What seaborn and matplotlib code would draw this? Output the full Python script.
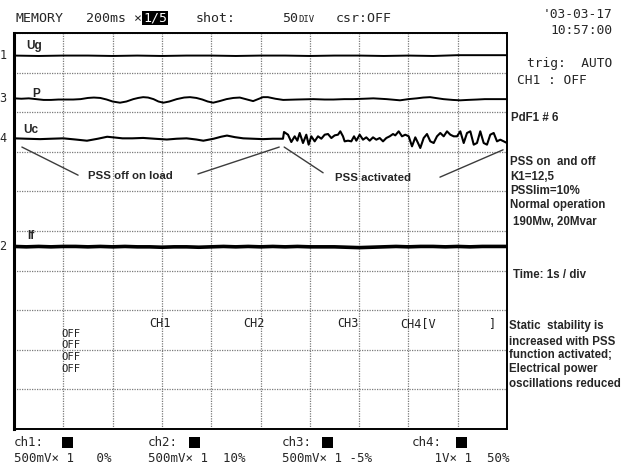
import matplotlib
matplotlib.use("Agg")
import numpy as np
import pandas as pd
import seaborn as sns
import matplotlib.pyplot as plt
from matplotlib.patches import Rectangle

# ---------------------------------------------------------------------------
# Recorded traces (time in s, amplitude in screen divisions, 1 s / div)
# ---------------------------------------------------------------------------
ug_t = [0.0, 0.5, 1.0, 1.5, 2.0, 2.5, 3.0, 3.5, 4.0, 4.5, 5.0, 5.5, 6.0, 6.5,
        7.0, 7.5, 8.0, 8.5, 9.0, 9.5, 10.0]
ug_v = [9.43, 9.42, 9.43, 9.43, 9.42, 9.43, 9.42, 9.43, 9.43, 9.42, 9.43, 9.43,
        9.42, 9.43, 9.43, 9.42, 9.43, 9.42, 9.44, 9.44, 9.44]

p_t = [0.00, 0.15, 0.30, 0.45, 0.60, 0.75, 0.90, 1.05, 1.20, 1.35, 1.50, 1.62,
       1.75, 1.88, 2.00, 2.15, 2.28, 2.42, 2.52, 2.62, 2.72, 2.83, 2.93, 3.03,
       3.15, 3.30, 3.45, 3.57, 3.70, 3.82, 3.93, 4.04, 4.17, 4.31, 4.45, 4.58,
       4.70, 4.85, 4.95, 5.05, 5.15, 5.30, 5.46, 5.73, 6.07, 6.30, 6.48, 6.70,
       6.88, 7.10, 7.29, 7.56, 7.83, 8.00, 8.17, 8.30, 8.44, 8.60, 8.71, 8.90,
       9.05, 9.20, 9.39, 9.55, 9.72, 9.86, 10.0]
p_v = [8.35, 8.34, 8.35, 8.33, 8.31, 8.31, 8.32, 8.32, 8.32, 8.33, 8.36, 8.37,
       8.36, 8.32, 8.27, 8.24, 8.27, 8.33, 8.36, 8.38, 8.37, 8.33, 8.27, 8.24,
       8.27, 8.33, 8.37, 8.38, 8.36, 8.32, 8.27, 8.24, 8.28, 8.33, 8.36, 8.37,
       8.33, 8.28, 8.33, 8.38, 8.38, 8.34, 8.31, 8.32, 8.33, 8.32, 8.32, 8.33,
       8.33, 8.34, 8.35, 8.33, 8.30, 8.33, 8.35, 8.37, 8.38, 8.35, 8.33, 8.31,
       8.30, 8.31, 8.32, 8.33, 8.33, 8.33, 8.33]

uc_t = [0.00, 0.25, 0.53, 0.75, 1.00, 1.25, 1.48, 1.70, 1.89, 2.05, 2.20, 2.40,
        2.62, 2.85, 3.10, 3.30, 3.50, 3.70, 3.84, 4.05, 4.20, 4.32, 4.48, 4.65,
        4.85, 5.05, 5.25, 5.36, 5.456,
        5.477, 5.558, 5.625, 5.693, 5.747, 5.795, 5.862, 5.929, 5.977, 6.031,
        6.099, 6.166, 6.234, 6.302, 6.369, 6.437, 6.505, 6.572, 6.619, 6.673,
        6.707, 6.775, 6.842, 6.897, 6.944, 7.012, 7.079, 7.146, 7.215, 7.282,
        7.349, 7.418, 7.485, 7.552, 7.621, 7.688, 7.734, 7.803, 7.870, 7.937,
        8.006, 8.073, 8.140, 8.195, 8.241, 8.310, 8.377, 8.444, 8.513, 8.580,
        8.647, 8.716, 8.783, 8.850, 8.919, 8.986, 9.053, 9.122, 9.189, 9.256,
        9.325, 9.391, 9.458, 9.527, 9.594, 9.661, 9.730, 9.797, 9.864, 9.933,
        10.0]
uc_v = [7.34, 7.33, 7.32, 7.33, 7.34, 7.31, 7.28, 7.33, 7.38, 7.36, 7.34, 7.34,
        7.35, 7.33, 7.31, 7.33, 7.34, 7.31, 7.28, 7.33, 7.38, 7.41, 7.37, 7.34,
        7.33, 7.32, 7.33, 7.33, 7.33,
        7.500, 7.432, 7.247, 7.391, 7.281, 7.475, 7.222, 7.432, 7.180, 7.391,
        7.264, 7.391, 7.331, 7.432, 7.449, 7.348, 7.415, 7.432, 7.517, 7.391,
        7.264, 7.281, 7.264, 7.391, 7.281, 7.432, 7.306, 7.365, 7.281, 7.365,
        7.306, 7.348, 7.264, 7.348, 7.391, 7.449, 7.415, 7.517, 7.391, 7.432,
        7.391, 7.138, 7.365, 7.222, 7.096, 7.348, 7.449, 7.264, 7.222, 7.391,
        7.475, 7.391, 7.517, 7.432, 7.391, 7.391, 7.517, 7.222, 7.475, 7.517,
        7.180, 7.222, 7.517, 7.222, 7.180, 7.432, 7.475, 7.264, 7.306, 7.264,
        7.222]

if_t = [0.0, 0.25, 0.5, 0.75, 1.0, 1.25, 1.5, 1.75, 2.0, 2.25, 2.5, 2.75, 3.0,
        3.25, 3.5, 3.75, 4.0, 4.25, 4.5, 4.75, 5.0, 5.25, 5.5, 5.75, 6.0, 6.25,
        6.5, 6.75, 7.0, 7.25, 7.5, 7.75, 8.0, 8.25, 8.5, 8.75, 9.0, 9.25, 9.5,
        9.75, 10.0]
if_v = [4.61, 4.60, 4.61, 4.60, 4.61, 4.61, 4.60, 4.61, 4.60, 4.61, 4.60, 4.60,
        4.59, 4.60, 4.60, 4.59, 4.60, 4.61, 4.60, 4.61, 4.60, 4.61, 4.60, 4.61,
        4.60, 4.60, 4.60, 4.59, 4.58, 4.59, 4.60, 4.61, 4.60, 4.61, 4.61, 4.60,
        4.61, 4.60, 4.61, 4.61, 4.61]

# channel markers on the left edge: (label, trace)
channel_numbers = ["1", "3", "4", "2"]
trace_names = ["Ug", "P", "Uc", "If"]

# ---------------------------------------------------------------------------
sns.set_theme(style="white")
plt.rcParams["font.family"] = ["DejaVu Sans"]
MONO = "DejaVu Sans Mono"
SANS = "Liberation Sans"

W, H = 634, 470
fig = plt.figure(figsize=(W / 100, H / 100), dpi=100)
fig.patch.set_facecolor("white")
ax = fig.add_axes([14 / W, 1 - 429 / H, 493 / W, 396 / H])


def fx(x):
    return x / W


def fy(y):
    return 1 - y / H


traces = pd.concat([
    pd.DataFrame({"t": ug_t, "v": ug_v, "trace": "Ug"}),
    pd.DataFrame({"t": p_t, "v": p_v, "trace": "P"}),
    pd.DataFrame({"t": uc_t, "v": uc_v, "trace": "Uc"}),
    pd.DataFrame({"t": if_t, "v": if_v, "trace": "If"}),
], ignore_index=True)

line_widths = {"Ug": 1.4, "P": 1.4, "Uc": 1.5, "If": 2.6}
for name in trace_names:
    sns.lineplot(data=traces[traces["trace"] == name], x="t", y="v",
                 color="black", linewidth=line_widths[name], ax=ax,
                 estimator=None, legend=False)

ax.set_xlim(0, 10)
ax.set_ylim(0, 10)
ax.set_xticks(np.arange(0, 11, 1))
ax.set_yticks(np.arange(0, 11, 1))
ax.set_xticklabels([])
ax.set_yticklabels([])
ax.tick_params(length=0)
ax.set_xlabel("")
ax.set_ylabel("")
ax.grid(True, color="#7a7a7a", linestyle=(0, (1, 1)), linewidth=0.9)
for side, sp in ax.spines.items():
    sp.set_visible(True)
    sp.set_color("black")
    sp.set_linewidth(1.4)
ax.spines["left"].set_linewidth(2.2)

# trace names inside the screen
name_pos = {"Ug": (0.24, 9.67), "P": (0.37, 8.47), "Uc": (0.18, 7.55),
            "If": (0.26, 4.87)}
for name in trace_names:
    ax.text(*name_pos[name], name, fontsize=8.5, fontweight="bold",
            family=SANS, ha="left", va="center")

# leader lines and annotations
leaders = [((0.16, 7.12), (1.30, 6.41)),
           ((3.73, 6.44), (5.38, 7.12)),
           ((5.48, 7.12), (6.27, 6.47)),
           ((8.64, 6.36), (9.92, 7.05))]
for (x0, y0), (x1, y1) in leaders:
    ax.plot([x0, x1], [y0, y1], color="#3c3c3c", linewidth=1.0)
ax.text(1.50, 6.39, "PSS off on load", fontsize=8.2, fontweight="bold",
        family=SANS, ha="left", va="center")
ax.text(6.51, 6.34, "PSS activated", fontsize=8.2, fontweight="bold",
        family=SANS, ha="left", va="center")

# scope status text inside the screen
for v in [2.40, 2.11, 1.82, 1.52]:
    ax.text(0.96, v, "OFF", fontsize=7.6, family=MONO, ha="left", va="center",
            color="#222222")
for t, s in [(2.74, "CH1"), (4.64, "CH2"), (6.55, "CH3"), (7.83, "CH4[V"),
             (9.61, "]")]:
    ax.text(t, 2.66, s, fontsize=8.6, family=MONO, ha="left", va="center",
            color="#222222")

# ---------------------------------------------------------------------------
# header
fig.text(fx(15), fy(18), "MEMORY", fontsize=9.5, family=MONO, va="center")
fig.text(fx(86), fy(18), "200ms ×", fontsize=9.5, family=MONO, va="center")
fig.text(fx(143), fy(18), "1/5", fontsize=9.5, family=MONO, va="center",
         color="white",
         bbox=dict(facecolor="black", edgecolor="none", pad=0.6))
fig.text(fx(196), fy(18), "shot:", fontsize=9.5, family=MONO, va="center")
fig.text(fx(282), fy(18), "50", fontsize=9.5, family=MONO, va="center")
fig.text(fx(298), fy(19), "DIV", fontsize=6.5, family=MONO, va="center")
fig.text(fx(336), fy(18), "csr:OFF", fontsize=9.5, family=MONO, va="center")
fig.text(fx(612), fy(15), "'03-03-17", fontsize=9.3, family=MONO,
         ha="right", va="center")
fig.text(fx(612), fy(31), "10:57:00", fontsize=9.3, family=MONO,
         ha="right", va="center")
fig.text(fx(612), fy(64), "trig:  AUTO", fontsize=9.3, family=MONO,
         ha="right", va="center")
fig.text(fx(517), fy(81), "CH1 : OFF", fontsize=9.3, family=MONO,
         ha="left", va="center")

# channel numbers at the left edge, aligned with each trace's level
trace_levels = {"Ug": ug_v[0], "P": p_v[0], "Uc": uc_v[0], "If": if_v[0]}
for num, name in zip(channel_numbers, trace_names):
    ax.text(-0.22, trace_levels[name], num, fontsize=8.5, family=MONO,
            ha="center", va="center", clip_on=False)

# side notes
fig.text(fx(511), fy(118), "PdF1 # 6", fontsize=8.3, fontweight="bold",
         family=SANS, va="center")
side_block = [(510, 162, "PSS on  and off"), (510, 177, "K1=12,5"),
              (510, 191, "PSSlim=10%"), (510, 205, "Normal operation"),
              (513, 222, "190Mw, 20Mvar")]
for x, y, s in side_block:
    fig.text(fx(x), fy(y), s, fontsize=8.3, fontweight="bold", family=SANS,
             va="center")
fig.text(fx(513), fy(275), "Time: 1s / div", fontsize=8.3, fontweight="bold",
         family=SANS, va="center")
note_block = [(326, "Static  stability is"), (342, "increased with PSS"),
              (355, "function activated;"), (369, "Electrical power"),
              (384, "oscillations reduced")]
for y, s in note_block:
    fig.text(fx(509), fy(y), s, fontsize=8.3, fontweight="bold", family=SANS,
             va="center")

# footer: channel settings
footer = [(14, 62, "ch1:", "500mV× 1   0%"),
          (148, 189, "ch2:", "500mV× 1  10%"),
          (282, 322, "ch3:", "500mV× 1 -5%"),
          (412, 456, "ch4:", "   1V× 1  50%")]
for x, sq, lab, scale in footer:
    fig.text(fx(x), fy(443), lab, fontsize=9, family=MONO, va="center")
    fig.text(fx(x), fy(459), scale, fontsize=9, family=MONO, va="center")
    fig.patches.append(Rectangle((fx(sq), fy(448)), 11 / W, 11 / H,
                                 transform=fig.transFigure, facecolor="black",
                                 edgecolor="none"))

fig.savefig("out.png", dpi=100, facecolor="white")
